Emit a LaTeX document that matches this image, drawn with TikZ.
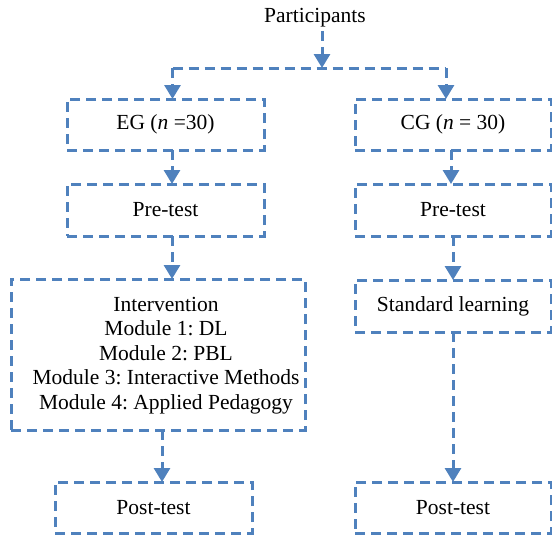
\documentclass[tikz,border=0pt]{standalone}
\usepackage{fontspec}
\setmainfont{Liberation Serif}
\usetikzlibrary{arrows.meta}
\definecolor{flowblue}{RGB}{79,129,189}
\frenchspacing

\begin{document}
\begin{tikzpicture}[x=1pt,y=-1pt,
  every node/.style={font=\fontsize{21.5}{24.5}\selectfont},
  box/.style={draw=flowblue,line width=3pt,dash pattern=on 10pt off 6pt,inner sep=2pt,outer sep=0pt,align=center,minimum height=51pt},
  flow/.style={draw=flowblue,line width=3pt,dash pattern=on 10pt off 6pt,-{Triangle[length=14pt,width=16pt]}}]
\useasboundingbox (0,0) rectangle (552,541);
\node (part) at (315,18) {Participants};
\coordinate (split) at (322,68);
\node[box,minimum width=197pt] (eg) at (165.5,124.5) {EG (\textit{n} =30)};
\node[box,minimum width=196pt] (cg) at (453,124.5) {CG (\textit{n} = 30)};
\node[box,minimum width=197pt,minimum height=52pt] (pre1) at (165.5,210) {Pre-test};
\node[box,minimum width=196pt,minimum height=52pt] (pre2) at (453,210) {Pre-test};
\node[box,minimum width=294pt,minimum height=151pt] (int) at (158,354.5) {};
\node[align=center] (inttext) at ([xshift=8pt,yshift=-1pt]int.center)
 {Intervention\\ Module 1: DL\\ Module 2: PBL\\ Module 3: Interactive Methods\\ Module 4: Applied Pedagogy};
\node[box,minimum width=196pt,minimum height=52pt] (sl) at (453,306) {Standard learning};
\node[box,minimum width=197pt] (post1) at (153.5,507.5) {Post-test};
\node[box,minimum width=196pt] (post2) at (453,507.5) {Post-test};
% entry points off the box centres
\coordinate (egin) at ([xshift=7pt]eg.north);
\coordinate (cgin) at ([xshift=-7pt]cg.north);
\coordinate (egout) at ([xshift=6.5pt]eg.south);
\coordinate (cgout) at ([xshift=-2pt]cg.south);
\coordinate (preout) at ([xshift=6.5pt]pre1.south);
\coordinate (intout) at ([xshift=4pt]int.south);
\draw[flow] (part.south -| split) -- (split);
\draw[flow,-] (egin |- split) -- (cgin |- split);
\draw[flow] (egin |- split) -- (egin);
\draw[flow] (cgin |- split) -- (cgin);
\draw[flow] (egout) -- (egout |- pre1.north);
\draw[flow] (cgout) -- (cgout |- pre2.north);
\draw[flow] (preout) -- (preout |- int.north);
\draw[flow] (pre2) -- (sl);
\draw[flow] (intout) -- (intout |- post1.north);
\draw[flow] (sl) -- (post2);
\end{tikzpicture}
\end{document}
